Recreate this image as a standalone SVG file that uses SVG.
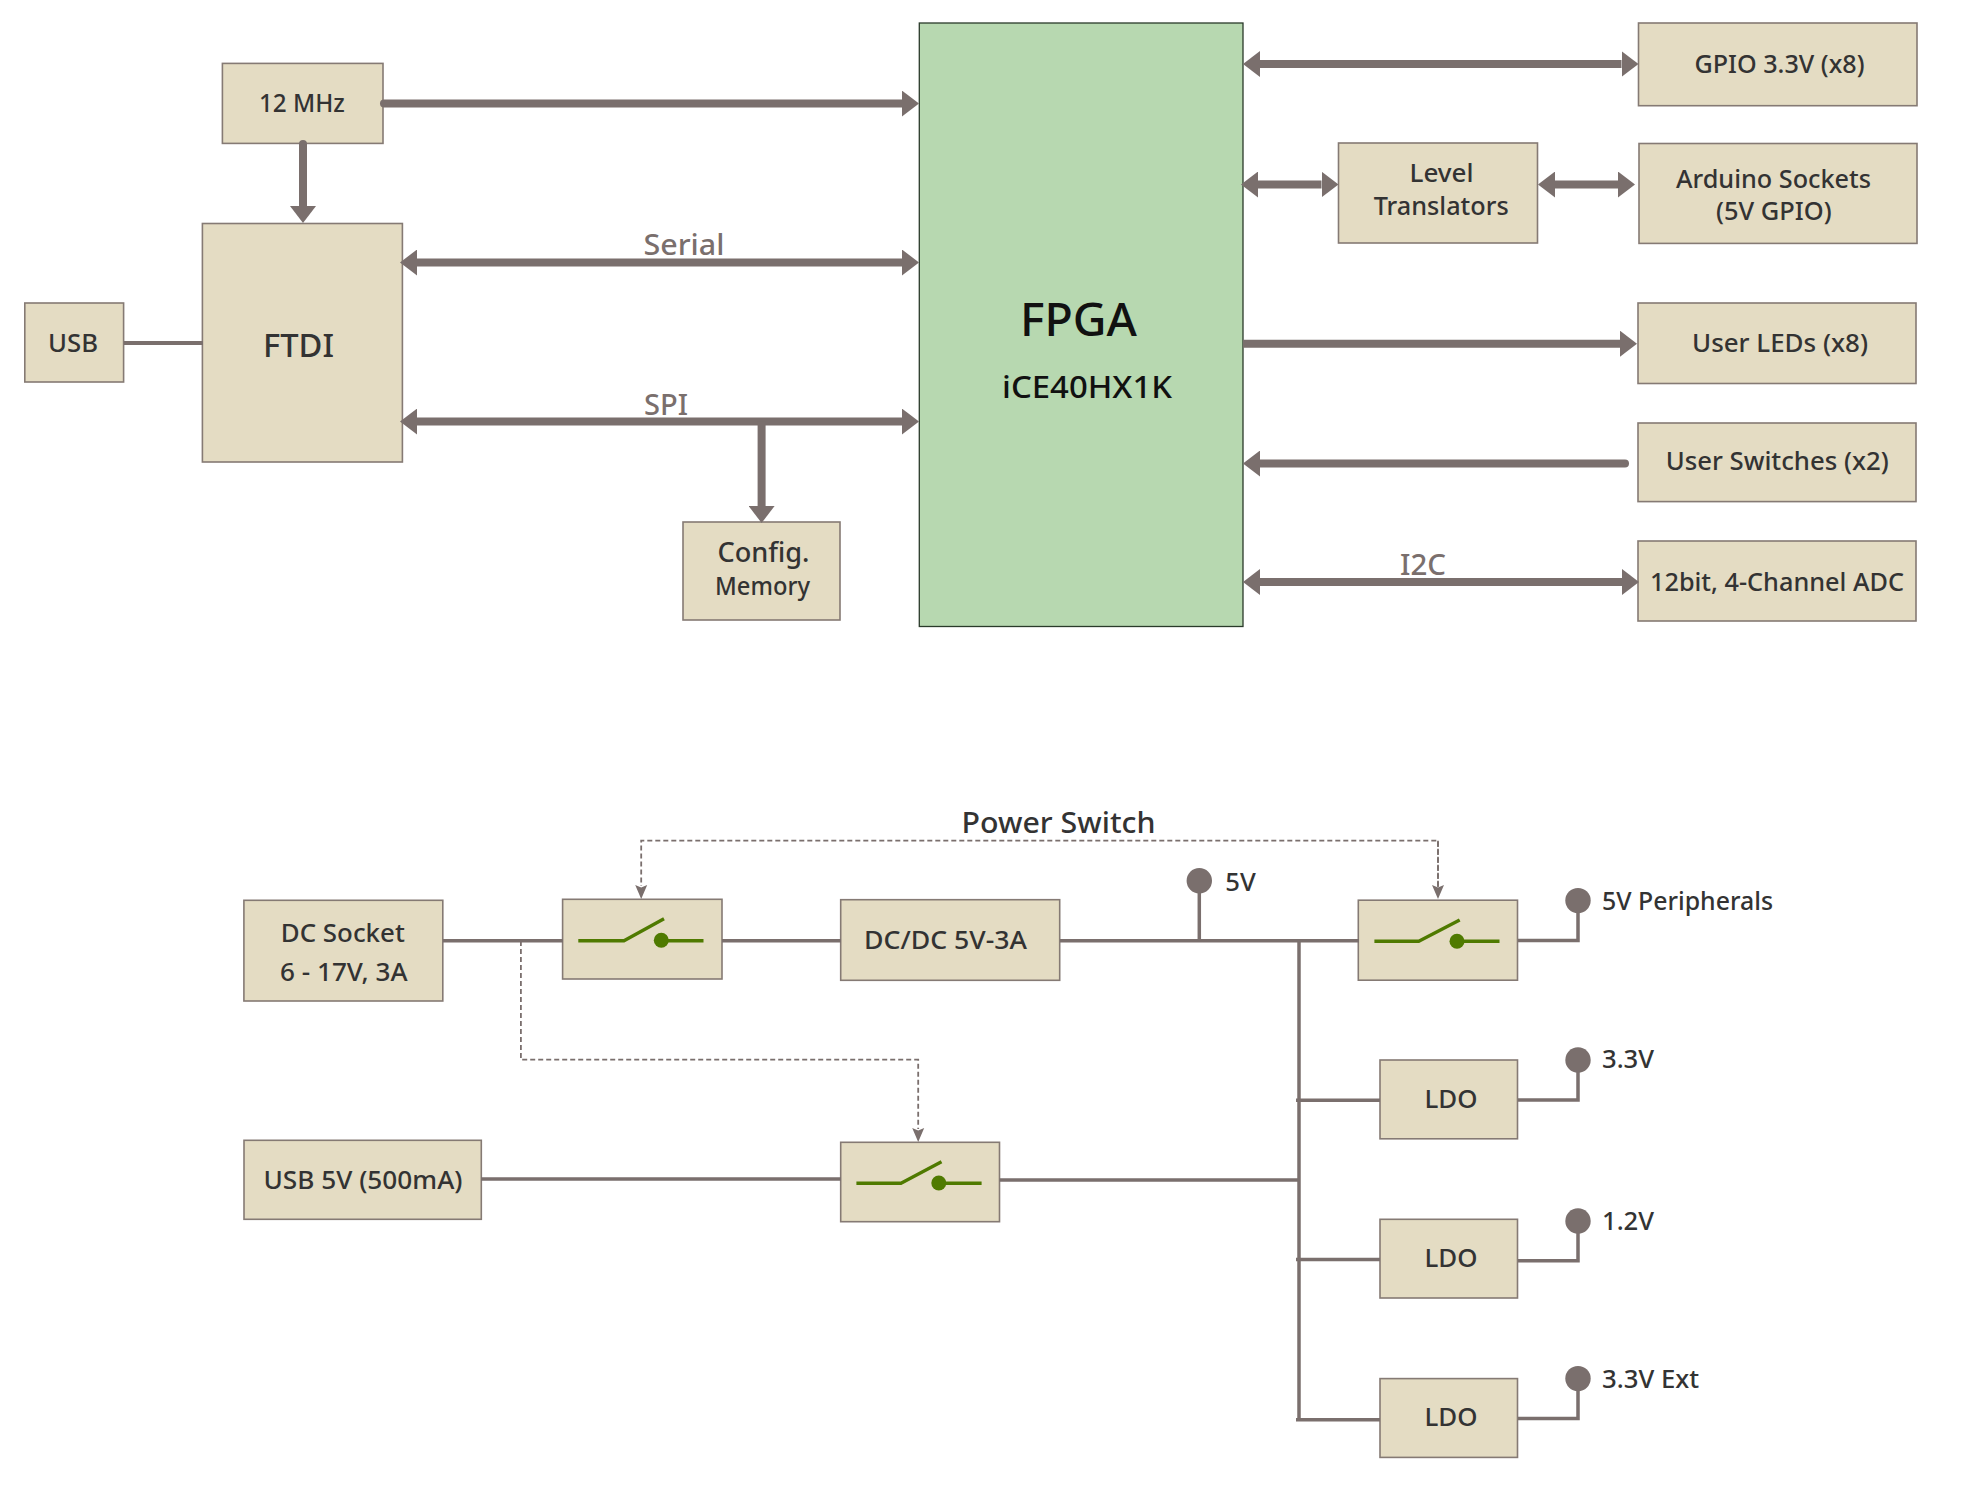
<svg xmlns="http://www.w3.org/2000/svg" width="1967" height="1496" viewBox="0 0 1967 1496">
<style>
.b{fill:#e4dcc3;stroke:#857a74;stroke-width:1.6}
.t{font-family:"Noto Sans","Open Sans",sans-serif;font-size:25px;fill:#333333;font-weight:500}
.l{font-family:"Noto Sans","Open Sans",sans-serif;font-size:29px;fill:#7a6f6d;font-weight:500}
.w{fill:none;stroke:#7a6f6d;stroke-width:8;stroke-linecap:round}
.x{stroke-linecap:butt}
.n{fill:none;stroke:#7a6f6d;stroke-width:3.5;stroke-linejoin:miter}
.d{fill:none;stroke:#7a6f6d;stroke-width:1.8;stroke-dasharray:5 3}
.g{fill:none;stroke:#4f7a00;stroke-width:3.4;stroke-linejoin:round}
.gd{fill:#4f7a00}
.p{fill:#7a6f6d}
</style>
<defs>
<marker id="a" markerUnits="userSpaceOnUse" markerWidth="18" markerHeight="26" refX="0" refY="13" orient="auto-start-reverse"><path d="M0 0L17 13L0 26Z" fill="#7a6f6d"/></marker>
<marker id="s" markerUnits="userSpaceOnUse" markerWidth="15" markerHeight="14" refX="1" refY="7" orient="auto"><path d="M0 1L14 7L0 13L2.500 7Z" fill="#7a6f6d"/></marker>
</defs>
<g id="osc"><rect class="b" x="222.400" y="63.400" width="160.600" height="80"/><text class="t" x="259" y="112" textLength="85.800" lengthAdjust="spacingAndGlyphs">12 MHz</text></g>
<g id="ftdi"><rect class="b" x="202.400" y="223.500" width="200" height="238.500"/><text class="t" x="263" y="357.400" style="font-size:32px" textLength="71" lengthAdjust="spacingAndGlyphs">FTDI</text></g>
<g id="usb"><rect class="b" x="24.800" y="303" width="98.800" height="79"/><text class="t" x="48" y="351.600" textLength="50" lengthAdjust="spacingAndGlyphs">USB</text></g>
<g id="config"><rect class="b" x="683" y="522" width="157" height="98"/><text class="t" x="717.500" y="561.800" style="font-size:27px" textLength="92" lengthAdjust="spacingAndGlyphs">Config.</text><text class="t" x="715" y="595" textLength="95" lengthAdjust="spacingAndGlyphs">Memory</text></g>
<g id="fpga"><rect x="919.300" y="23" width="323.700" height="603.500" fill="#b7d8b0" stroke="#2a3a2a" stroke-width="1.300"/><text class="t" x="1020" y="336" style="font-size:46px;fill:#111" textLength="117" lengthAdjust="spacingAndGlyphs">FPGA</text><text class="t" x="1002" y="397.700" style="font-size:31px;fill:#111" textLength="170" lengthAdjust="spacingAndGlyphs">iCE40HX1K</text></g>
<g id="gpio"><rect class="b" x="1638.500" y="23" width="278.500" height="82.700"/><text class="t" x="1694.500" y="73" textLength="170" lengthAdjust="spacingAndGlyphs">GPIO 3.3V (x8)</text></g>
<g id="level"><rect class="b" x="1338.500" y="143" width="199" height="100"/><text class="t" x="1409.500" y="182.400" textLength="64" lengthAdjust="spacingAndGlyphs">Level</text><text class="t" x="1373.700" y="214.800" textLength="135" lengthAdjust="spacingAndGlyphs">Translators</text></g>
<g id="arduino"><rect class="b" x="1639" y="143.500" width="278" height="99.900"/><text class="t" x="1676" y="187.800" textLength="195" lengthAdjust="spacingAndGlyphs">Arduino Sockets</text><text class="t" x="1716" y="219.500" textLength="115.600" lengthAdjust="spacingAndGlyphs">(5V GPIO)</text></g>
<g id="leds"><rect class="b" x="1638" y="303" width="278" height="80.500"/><text class="t" x="1692" y="351.600" textLength="176" lengthAdjust="spacingAndGlyphs">User LEDs (x8)</text></g>
<g id="switches"><rect class="b" x="1638" y="423" width="278" height="78.600"/><text class="t" x="1665.700" y="470" textLength="223" lengthAdjust="spacingAndGlyphs">User Switches (x2)</text></g>
<g id="adc"><rect class="b" x="1638" y="541" width="278" height="80"/><text class="t" x="1650" y="591" textLength="254" lengthAdjust="spacingAndGlyphs">12bit, 4-Channel ADC</text></g>
<g id="dc"><rect class="b" x="243.900" y="900.300" width="198.900" height="100.700"/><text class="t" x="280.800" y="941.700" textLength="124" lengthAdjust="spacingAndGlyphs">DC Socket</text><text class="t" x="280" y="981" textLength="127.600" lengthAdjust="spacingAndGlyphs">6 - 17V, 3A</text></g>
<g id="sw1"><rect class="b" x="562.600" y="899.300" width="159.400" height="79.700"/><path class="g" d="M578.300 940.700H624L664 918.700M661.300 940.700H703.500"/><circle class="gd" cx="661.300" cy="940.300" r="7.500"/></g>
<g id="dcdc"><rect class="b" x="840.700" y="899.700" width="219" height="80.600"/><text class="t" x="864" y="949.300" textLength="163" lengthAdjust="spacingAndGlyphs">DC/DC 5V-3A</text></g>
<g id="usb5"><rect class="b" x="244" y="1140.300" width="237.300" height="79"/><text class="t" x="263.500" y="1189" textLength="199" lengthAdjust="spacingAndGlyphs">USB 5V (500mA)</text></g>
<g id="sw2"><rect class="b" x="840.700" y="1142.300" width="158.800" height="79.400"/><path class="g" d="M856.400 1183.300H901L941.500 1161.700M938.800 1183.300H981.600"/><circle class="gd" cx="938.800" cy="1183" r="7.500"/></g>
<g id="sw3"><rect class="b" x="1358.300" y="900.200" width="159.200" height="80"/><path class="g" d="M1374.400 941.200H1418.800L1459.700 920M1457 941.200H1499.500"/><circle class="gd" cx="1457" cy="941.200" r="7.500"/></g>
<g id="ldo1"><rect class="b" x="1380" y="1060" width="137.500" height="78.800"/><text class="t" x="1424.500" y="1107.600" textLength="53" lengthAdjust="spacingAndGlyphs">LDO</text></g>
<g id="ldo2"><rect class="b" x="1380" y="1219.300" width="137.500" height="78.700"/><text class="t" x="1424.500" y="1266.600" textLength="53" lengthAdjust="spacingAndGlyphs">LDO</text></g>
<g id="ldo3"><rect class="b" x="1380" y="1378.600" width="137.500" height="78.800"/><text class="t" x="1424.500" y="1426" textLength="53" lengthAdjust="spacingAndGlyphs">LDO</text></g>
<g id="connectors">
<path class="w" d="M384 103.600H902" marker-end="url(#a)"/>
<path class="w" d="M303 144V206" marker-end="url(#a)"/>
<path class="w x" d="M417 262.500H902" marker-start="url(#a)" marker-end="url(#a)"/>
<path class="w x" d="M417 421.600H902" marker-start="url(#a)" marker-end="url(#a)"/>
<path class="w x" d="M761.600 421.600V506" marker-end="url(#a)"/>
<path class="n" style="stroke-width:4" d="M124 343H203"/>
<path class="w x" d="M1260 64H1621.500" marker-start="url(#a)" marker-end="url(#a)"/>
<path class="w x" d="M1258 184.500H1321.500" marker-start="url(#a)" marker-end="url(#a)"/>
<path class="w x" d="M1555 184.500H1618" marker-start="url(#a)" marker-end="url(#a)"/>
<path class="w x" d="M1243 343.700H1620" marker-end="url(#a)"/>
<path class="w" d="M1625 463.500H1260" marker-end="url(#a)"/>
<path class="w x" d="M1260 582H1622" marker-start="url(#a)" marker-end="url(#a)"/>
<path class="n" d="M443 940.700H563M722 940.700H841M1060 940.700H1359"/>
<path class="n" d="M481 1179H841M999.500 1180H1299"/>
<path class="n" d="M1199.300 880.700V940.700"/>
<path class="n" d="M1299 940V1420"/>
<path class="n" d="M1296 1100.200H1380M1296 1259.500H1380M1296 1419.700H1380"/>
<path class="n" d="M1518 940.400H1578V900.600"/>
<path class="n" d="M1518 1100H1578V1060"/>
<path class="n" d="M1518 1260.800H1578V1221"/>
<path class="n" d="M1518 1418.400H1578V1378.600"/>
<path class="d" d="M1438 887V840.700H641.200V886" marker-end="url(#s)"/>
<path class="d" d="M1438 840.700V886" marker-end="url(#s)"/>
<path class="d" d="M520.900 941V1059.700H918.200V1129" marker-end="url(#s)"/>
</g>
<g id="labels"><text class="l" x="643.500" y="255" textLength="81" lengthAdjust="spacingAndGlyphs">Serial</text><text class="l" x="644" y="414.600" textLength="44" lengthAdjust="spacingAndGlyphs">SPI</text><text class="l" x="1400" y="574.600" textLength="46" lengthAdjust="spacingAndGlyphs">I2C</text></g>
<g id="rails">
<circle class="p" cx="1199.300" cy="880.700" r="12.700"/><text class="t" x="1225.200" y="890.700" textLength="30.500" lengthAdjust="spacingAndGlyphs">5V</text>
<circle class="p" cx="1578" cy="900.600" r="12.700"/><text class="t" x="1602" y="909.700" textLength="171" lengthAdjust="spacingAndGlyphs">5V Peripherals</text>
<circle class="p" cx="1578" cy="1060" r="12.700"/><text class="t" x="1602" y="1068" textLength="52" lengthAdjust="spacingAndGlyphs">3.3V</text>
<circle class="p" cx="1578" cy="1221" r="12.700"/><text class="t" x="1602" y="1229.600" textLength="52" lengthAdjust="spacingAndGlyphs">1.2V</text>
<circle class="p" cx="1578" cy="1378.600" r="12.700"/><text class="t" x="1602" y="1387.700" textLength="97" lengthAdjust="spacingAndGlyphs">3.3V Ext</text>
</g>
<g id="title"><text class="t" x="961.500" y="833" style="font-size:29px" textLength="194" lengthAdjust="spacingAndGlyphs">Power Switch</text></g>
</svg>
